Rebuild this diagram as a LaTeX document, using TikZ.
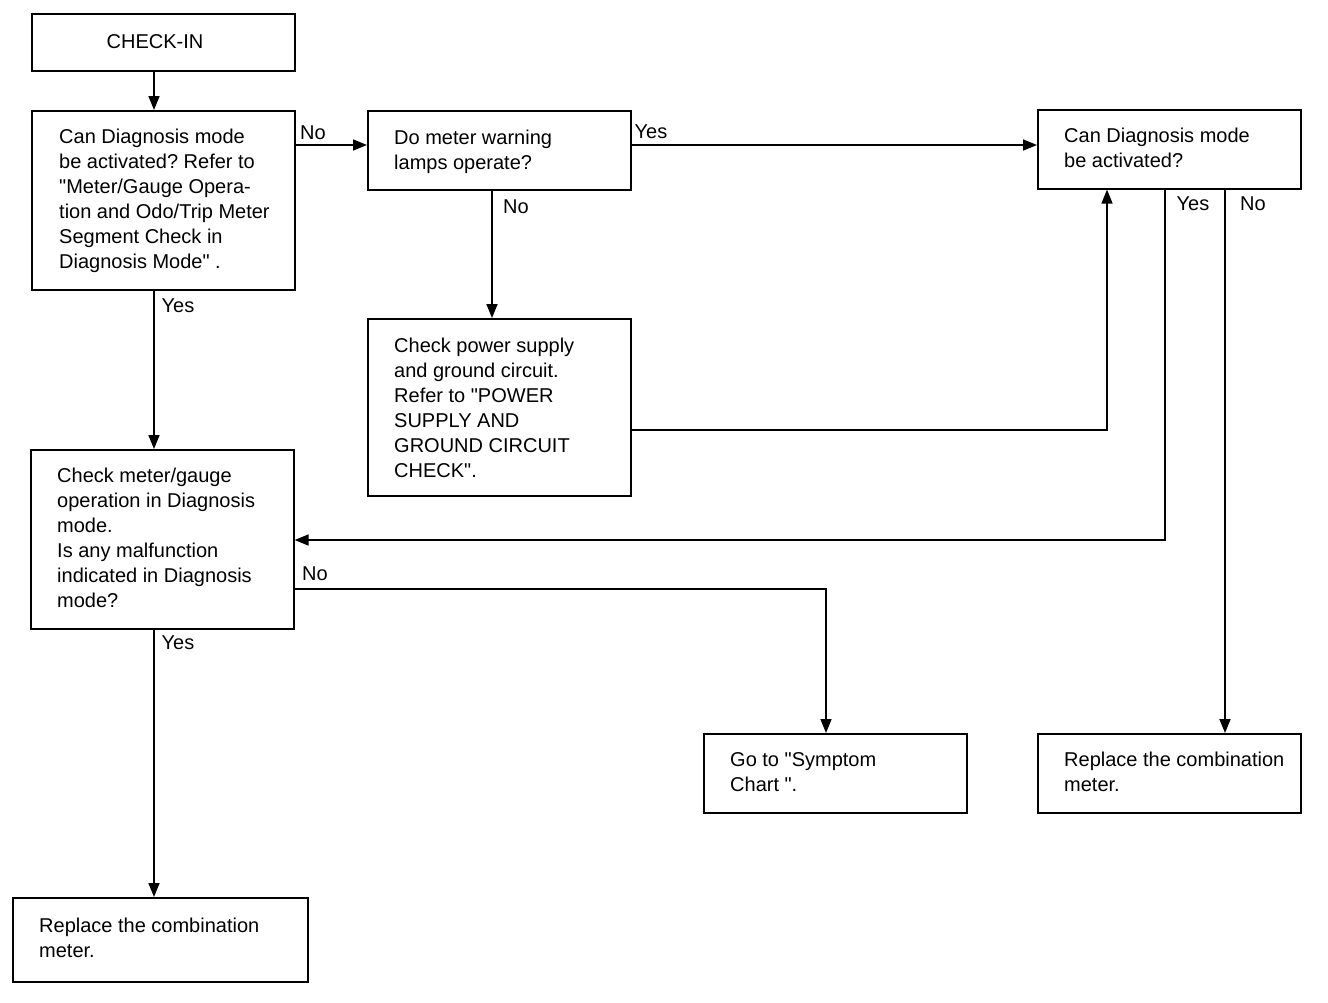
\documentclass[tikz,border=0pt]{standalone}
\usepackage{fontspec}
\setmainfont{Liberation Sans}[Ligatures=TeXOff]
\usetikzlibrary{arrows.meta}
\begin{document}
\frenchspacing
\begin{tikzpicture}[x=1pt,y=-1pt,
 box/.style={draw, line width=1.6pt, inner sep=0, anchor=north west},
 txt/.style={anchor=north west, inner sep=0, align=left, font=\fontsize{20}{25}\selectfont},
 lbl/.style={anchor=center, inner sep=0, font=\fontsize{20}{25}\selectfont},
 arr/.style={line width=1.6pt, -{Triangle[length=14pt,width=11pt]}},
 ln/.style={line width=1.6pt}]
\useasboundingbox (0,0) rectangle (1328,1002);
% boxes
\node[box, minimum width=263pt, minimum height=57pt] (checkin) at (31,13) {};
\node[box, minimum width=263pt, minimum height=179pt] (q1) at (31,110) {};
\node[box, minimum width=263pt, minimum height=79pt] (q2) at (367,110) {};
\node[box, minimum width=263pt, minimum height=79pt] (q3) at (1037,109) {};
\node[box, minimum width=263pt, minimum height=177pt] (power) at (367,318) {};
\node[box, minimum width=263pt, minimum height=179pt] (meter) at (30,449) {};
\node[box, minimum width=263pt, minimum height=79pt] (symptom) at (703,733) {};
\node[box, minimum width=263pt, minimum height=79pt] (replR) at (1037,733) {};
\node[box, minimum width=295pt, minimum height=84pt] (replB) at (12,897) {};
% texts
\node[lbl] (t0) at (155,42) {CHECK-IN};
\node[txt] (t1) at (59,129) {Can Diagnosis mode\\be activated? Refer to\\"Meter/Gauge Opera-\\tion and Odo/Trip Meter\\Segment Check in\\Diagnosis Mode" .};
\node[txt] (t2) at (394,130) {Do meter warning\\lamps operate?};
\node[txt] (t3) at (1064,128) {Can Diagnosis mode\\be activated?};
\node[txt] (t4) at (394,338) {Check power supply\\and ground circuit.\\Refer to "POWER\\SUPPLY AND\\GROUND CIRCUIT\\CHECK".};
\node[txt] (t5) at (57,468) {Check meter/gauge\\operation in Diagnosis\\mode.\\Is any malfunction\\indicated in Diagnosis\\mode?};
\node[txt] (t6) at (730,752) {Go to "Symptom\\Chart ".};
\node[txt] (t7) at (1064,752) {Replace the combination\\meter.};
\node[txt] (t8) at (39,918) {Replace the combination\\meter.};
% labels
\node[lbl] (l1) at (313,133) {No};
\node[lbl] (l2) at (651,132) {Yes};
\node[lbl] (l3) at (516,207) {No};
\node[lbl] (l4) at (1193,204) {Yes};
\node[lbl] (l5) at (1253,204) {No};
\node[lbl] (l6) at (178,306) {Yes};
\node[lbl] (l7) at (315,574) {No};
\node[lbl] (l8) at (178,643) {Yes};
% connectors
\draw[arr] (checkin.south -| 154,0) -- (q1.north -| 154,0);
\draw[arr] (q1.east |- 0,145) -- (q2.west |- 0,145);
\draw[arr] (q2.east |- 0,145) -- (q3.west |- 0,145);
\draw[arr] (q2.south -| 492,0) -- (power.north -| 492,0);
\draw[arr] (power.east |- 0,430) -| (q3.south -| 1107,0);
\draw[arr] (q3.south -| 1165,0) |- (meter.east |- 0,540);
\draw[arr] (q3.south -| 1225,0) -- (replR.north -| 1225,0);
\draw[arr] (q1.south -| 154,0) -- (meter.north -| 154,0);
\draw[arr] (meter.east |- 0,589) -| (symptom.north -| 826,0);
\draw[arr] (meter.south -| 154,0) -- (replB.north -| 154,0);
\end{tikzpicture}
\end{document}
